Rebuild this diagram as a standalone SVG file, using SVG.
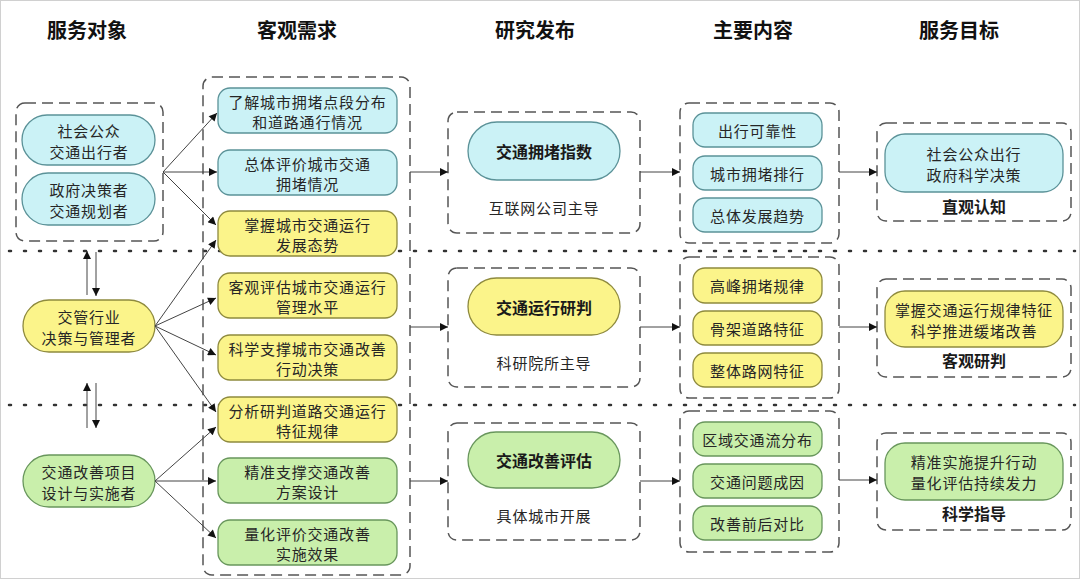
<svg xmlns="http://www.w3.org/2000/svg" width="1080" height="579" viewBox="0 0 1080 579">
<style>
text{font-family:"Noto Sans CJK SC","Noto Sans",sans-serif;fill:#262626;text-anchor:middle;dominant-baseline:central}
.h{font-size:20px;font-weight:bold;fill:#111}
.t{font-size:15px;letter-spacing:0.8px}
.tb{font-size:16px;font-weight:bold;fill:#1a1a1a}
.lb{font-size:16px;font-weight:bold;fill:#1a1a1a}
.dash{fill:none;stroke:#555;stroke-width:1.5;stroke-dasharray:11 6}
.dot{stroke:#333;stroke-width:2.5;stroke-dasharray:2 13;stroke-linecap:round}
.c{fill:#cbf2f6;stroke:#5b9298;stroke-width:1.3}
.y{fill:#fbf48a;stroke:#8e8a3e;stroke-width:1.3}
.g{fill:#c9efab;stroke:#68965c;stroke-width:1.3}
.ln{stroke:#444;stroke-width:1;fill:none;marker-end:url(#ah)}
</style>
<defs>
<marker id="ah" viewBox="0 0 10 10" refX="10" refY="5" markerWidth="10" markerHeight="8" markerUnits="userSpaceOnUse" orient="auto">
<path d="M0,0 L10,5 L0,10 z" fill="#111"/>
</marker>
</defs>
<rect x="0.5" y="0.5" width="1079" height="578" fill="#fff" stroke="#d0d0d0"/>

<g id="headers">
<text class="h" x="87" y="29">服务对象</text>
<text class="h" x="297" y="29">客观需求</text>
<text class="h" x="535" y="29">研究发布</text>
<text class="h" x="753" y="29">主要内容</text>
<text class="h" x="959" y="29">服务目标</text>
</g>

<g id="separators">
<line class="dot" x1="9" y1="251" x2="1075" y2="251"/>
<line class="dot" x1="9" y1="405" x2="1075" y2="405"/>
</g>

<g id="group-public">
<rect class="dash" x="16" y="103" width="147" height="138" rx="9"/>
<rect class="c" x="22" y="115" width="133" height="50" rx="25"/>
<text class="t" x="89" y="130">社会公众</text>
<text class="t" x="89" y="151">交通出行者</text>
<rect class="c" x="22" y="173" width="133" height="52" rx="26"/>
<text class="t" x="89" y="189">政府决策者</text>
<text class="t" x="89" y="210">交通规划者</text>
</g>
<g id="node-manager">
<rect class="y" x="23" y="300" width="132" height="52" rx="26"/>
<text class="t" x="89" y="316">交管行业</text>
<text class="t" x="89" y="337">决策与管理者</text>
</g>
<g id="node-designer">
<rect class="g" x="23" y="455" width="132" height="52" rx="26"/>
<text class="t" x="89" y="471">交通改善项目</text>
<text class="t" x="89" y="492">设计与实施者</text>
</g>

<g id="group-needs">
<rect class="dash" x="203" y="77" width="207" height="498" rx="9"/>
<rect class="c" x="218" y="88" width="179" height="45" rx="12"/>
<text class="t" x="307.5" y="101">了解城市拥堵点段分布</text>
<text class="t" x="307.5" y="121">和道路通行情况</text>
<rect class="c" x="218" y="150" width="179" height="45" rx="12"/>
<text class="t" x="307.5" y="163">总体评价城市交通</text>
<text class="t" x="307.5" y="183">拥堵情况</text>
<rect class="y" x="218" y="211" width="179" height="45" rx="12"/>
<text class="t" x="307.5" y="224">掌握城市交通运行</text>
<text class="t" x="307.5" y="244">发展态势</text>
<rect class="y" x="218" y="273" width="179" height="45" rx="12"/>
<text class="t" x="307.5" y="286">客观评估城市交通运行</text>
<text class="t" x="307.5" y="306">管理水平</text>
<rect class="y" x="218" y="335" width="179" height="45" rx="12"/>
<text class="t" x="307.5" y="348">科学支撑城市交通改善</text>
<text class="t" x="307.5" y="368">行动决策</text>
<rect class="y" x="218" y="397" width="179" height="45" rx="12"/>
<text class="t" x="307.5" y="410">分析研判道路交通运行</text>
<text class="t" x="307.5" y="430">特征规律</text>
<rect class="g" x="218" y="458" width="179" height="45" rx="12"/>
<text class="t" x="307.5" y="471">精准支撑交通改善</text>
<text class="t" x="307.5" y="491">方案设计</text>
<rect class="g" x="218" y="520" width="179" height="45" rx="12"/>
<text class="t" x="307.5" y="533">量化评价交通改善</text>
<text class="t" x="307.5" y="553">实施效果</text>
</g>

<g id="research-1">
<rect class="dash" x="448" y="112" width="192" height="121" rx="9"/>
<rect class="c" x="468" y="122" width="152" height="58" rx="29"/>
<text class="tb" x="544" y="151">交通拥堵指数</text>
<text class="t" x="544" y="207">互联网公司主导</text>
</g>
<g id="research-2">
<rect class="dash" x="448" y="268" width="192" height="119" rx="9"/>
<rect class="y" x="468" y="278" width="152" height="57" rx="28.5"/>
<text class="tb" x="544" y="306.5">交通运行研判</text>
<text class="t" x="544" y="362">科研院所主导</text>
</g>
<g id="research-3">
<rect class="dash" x="448" y="423" width="192" height="117" rx="9"/>
<rect class="g" x="468" y="432" width="152" height="56" rx="28"/>
<text class="tb" x="544" y="460">交通改善评估</text>
<text class="t" x="544" y="515">具体城市开展</text>
</g>

<g id="content-1">
<rect class="dash" x="680" y="103" width="159" height="140" rx="9"/>
<rect class="c" x="693" y="113" width="129" height="34" rx="12"/>
<text class="t" x="757.5" y="130">出行可靠性</text>
<rect class="c" x="693" y="156" width="129" height="34" rx="12"/>
<text class="t" x="757.5" y="173">城市拥堵排行</text>
<rect class="c" x="693" y="198" width="129" height="34" rx="12"/>
<text class="t" x="757.5" y="215">总体发展趋势</text>
</g>
<g id="content-2">
<rect class="dash" x="680" y="257" width="159" height="141" rx="9"/>
<rect class="y" x="693" y="268" width="129" height="35" rx="12"/>
<text class="t" x="757.5" y="285.5">高峰拥堵规律</text>
<rect class="y" x="693" y="311" width="129" height="34" rx="12"/>
<text class="t" x="757.5" y="328">骨架道路特征</text>
<rect class="y" x="693" y="353" width="129" height="34" rx="12"/>
<text class="t" x="757.5" y="370">整体路网特征</text>
</g>
<g id="content-3">
<rect class="dash" x="680" y="411" width="159" height="141" rx="9"/>
<rect class="g" x="693" y="422" width="129" height="34" rx="12"/>
<text class="t" x="757.5" y="439">区域交通流分布</text>
<rect class="g" x="693" y="464" width="129" height="34" rx="12"/>
<text class="t" x="757.5" y="481">交通问题成因</text>
<rect class="g" x="693" y="506" width="129" height="34" rx="12"/>
<text class="t" x="757.5" y="523">改善前后对比</text>
</g>

<g id="goal-1">
<rect class="dash" x="877" y="123" width="194" height="98" rx="9"/>
<rect class="c" x="885" y="134" width="178" height="58" rx="20"/>
<text class="t" x="974" y="153">社会公众出行</text>
<text class="t" x="974" y="174">政府科学决策</text>
<text class="lb" x="974" y="206">直观认知</text>
</g>
<g id="goal-2">
<rect class="dash" x="877" y="279" width="194" height="98" rx="9"/>
<rect class="y" x="885" y="291" width="178" height="56" rx="20"/>
<text class="t" x="974" y="309">掌握交通运行规律特征</text>
<text class="t" x="974" y="330">科学推进缓堵改善</text>
<text class="lb" x="974" y="360">客观研判</text>
</g>
<g id="goal-3">
<rect class="dash" x="877" y="433" width="194" height="97" rx="9"/>
<rect class="g" x="885" y="443" width="178" height="57" rx="20"/>
<text class="t" x="974" y="461">精准实施提升行动</text>
<text class="t" x="974" y="482">量化评估持续发力</text>
<text class="lb" x="974" y="513">科学指导</text>
</g>

<g id="connectors">
<line class="ln" x1="163" y1="172" x2="217" y2="113"/>
<line class="ln" x1="163" y1="172" x2="217" y2="172"/>
<line class="ln" x1="163" y1="172" x2="216" y2="225"/>
<line class="ln" x1="155" y1="326" x2="216" y2="240"/>
<line class="ln" x1="155" y1="326" x2="216" y2="298"/>
<line class="ln" x1="155" y1="326" x2="216" y2="355"/>
<line class="ln" x1="155" y1="326" x2="216" y2="412"/>
<line class="ln" x1="155" y1="481" x2="216" y2="427"/>
<line class="ln" x1="155" y1="481" x2="216" y2="481"/>
<line class="ln" x1="155" y1="481" x2="216" y2="538"/>
<line class="ln" x1="87" y1="295" x2="87" y2="251"/>
<line class="ln" x1="96" y1="252" x2="96" y2="296"/>
<line class="ln" x1="87" y1="428" x2="87" y2="383"/>
<line class="ln" x1="96" y1="383" x2="96" y2="428"/>
<line class="ln" x1="410" y1="172" x2="448" y2="172"/>
<line class="ln" x1="410" y1="327" x2="448" y2="327"/>
<line class="ln" x1="410" y1="481" x2="448" y2="481"/>
<line class="ln" x1="640" y1="172" x2="680" y2="172"/>
<line class="ln" x1="640" y1="327" x2="680" y2="327"/>
<line class="ln" x1="640" y1="481" x2="680" y2="481"/>
<line class="ln" x1="839" y1="172" x2="877" y2="172"/>
<line class="ln" x1="839" y1="327" x2="877" y2="327"/>
<line class="ln" x1="839" y1="480" x2="877" y2="480"/>
</g>
</svg>
